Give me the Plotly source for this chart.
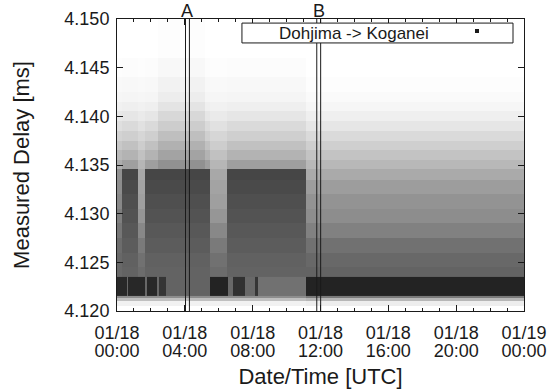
import pandas as pd
import plotly.graph_objects as go

day0 = pd.Timestamp("2008-01-18 00:00")

# Delay bin edges [ms]
delay_edges = [4.1200, 4.1205, 4.1210, 4.1213, 4.1216, 4.1235, 4.1245, 4.1260, 4.1275,
               4.1290, 4.1305, 4.1320, 4.1335, 4.1346, 4.1355, 4.1365, 4.1375, 4.1385,
               4.1395, 4.1405, 4.1415, 4.1425, 4.1440, 4.1460, 4.1500]

# Point density (0 = empty, 1 = saturated) per delay bin, for each kind of period
density_dense = [0.00, 0.06, 0.28, 0.50, 0.66, 0.68, 0.69, 0.71, 0.73, 0.75, 0.77, 0.79,
                 0.81, 0.42, 0.33, 0.27, 0.21, 0.16, 0.11, 0.07, 0.045, 0.03, 0.015, 0.00]
density_gap = [0.00, 0.06, 0.28, 0.50, 0.62, 0.64, 0.62, 0.58, 0.52, 0.46, 0.42, 0.40,
               0.38, 0.32, 0.27, 0.22, 0.18, 0.13, 0.09, 0.06, 0.04, 0.025, 0.01, 0.00]
density_edge = [0.00, 0.06, 0.28, 0.50, 0.64, 0.66, 0.66, 0.64, 0.60, 0.56, 0.52, 0.50,
                0.48, 0.36, 0.30, 0.24, 0.19, 0.14, 0.10, 0.06, 0.04, 0.025, 0.01, 0.00]
density_high = [0.00, 0.06, 0.28, 0.50, 0.66, 0.68, 0.69, 0.71, 0.73, 0.75, 0.77, 0.79,
                0.81, 0.48, 0.40, 0.34, 0.28, 0.22, 0.17, 0.12, 0.08, 0.055, 0.03, 0.01]
density_late = [0.00, 0.08, 0.32, 0.58, 0.95, 0.68, 0.66, 0.62, 0.55, 0.50, 0.47, 0.43,
                0.37, 0.31, 0.26, 0.21, 0.16, 0.11, 0.07, 0.04, 0.02, 0.01, 0.00, 0.00]

# Periods [hours after 01/18 00:00] and which density profile they show
period_hours = [0.0, 0.30, 1.24, 1.65, 2.40, 5.20, 5.48, 6.49, 11.15, 24.0]
period_kind = ["edge", "dense", "gap", "dense", "high", "dense", "gap", "dense", "late"]

# Baseline band (4.1216-4.1235 ms) density per period
band_edges = [4.1216, 4.1235]
band_hours = [0.0, 0.59, 0.65, 1.65, 1.77, 2.36, 2.45, 2.90, 5.48, 6.54, 6.84, 7.55,
              8.14, 8.31, 11.15, 24.0]
band_density = [0.94, 0.66, 0.94, 0.66, 0.94, 0.66, 0.88, 0.68, 0.96, 0.66, 0.90, 0.66,
                0.88, 0.62, 0.96]

# Events marked by double vertical lines
event_labels = ["A", "B"]
event_start_h = [4.04, 11.78]
event_end_h = [4.27, 12.01]

series_name = "Dohjima -> Koganei"

profiles = {"dense": density_dense, "gap": density_gap, "edge": density_edge,
            "high": density_high, "late": density_late}


def t(h):
    return day0 + pd.Timedelta(hours=h)


z_main = [[profiles[k][i] for k in period_kind] for i in range(len(delay_edges) - 1)]

gray = [[0, "#ffffff"], [1, "#1a1a1a"]]
fig = go.Figure()
fig.add_trace(go.Heatmap(x=[t(h) for h in period_hours], y=delay_edges, z=z_main,
                         colorscale=gray, zmin=0, zmax=1, showscale=False,
                         hoverinfo="skip", name=series_name))
fig.add_trace(go.Heatmap(x=[t(h) for h in band_hours], y=band_edges, z=[band_density],
                         colorscale=gray, zmin=0, zmax=1, showscale=False,
                         hoverinfo="skip", xaxis="x2", name=series_name))

font = dict(family="Liberation Sans, Arial, sans-serif", size=18, color="#1a1a1a")
shapes = []
annotations = []
for lab, s, e in zip(event_labels, event_start_h, event_end_h):
    for h in (s, e):
        shapes.append(dict(type="line", xref="x", yref="paper", x0=t(h), x1=t(h), y0=0, y1=1,
                           line=dict(color="#1a1a1a", width=1), layer="above"))
    annotations.append(dict(text=lab, xref="x", yref="paper", x=t((s + e) / 2), y=1,
                            yanchor="bottom", showarrow=False, font=font, yshift=-4))

# key box
shapes.append(dict(type="rect", xref="paper", yref="paper", x0=0.307, x1=0.973, y0=0.918,
                   y1=0.986, line=dict(color="#1a1a1a", width=1), fillcolor="white",
                   layer="above"))
shapes.append(dict(type="rect", xref="paper", yref="paper", x0=0.8796, x1=0.8894, y0=0.9521,
                   y1=0.9658, line=dict(width=0), fillcolor="#1a1a1a", layer="above"))
annotations.append(dict(text=series_name, xref="paper", yref="paper", x=0.582, y=0.952,
                        xanchor="center", yanchor="middle", showarrow=False,
                        font=dict(font, size=17)))

axis_common = dict(showgrid=False, zeroline=False, automargin=False)
fig.update_layout(
    width=549, height=389, margin=dict(l=117, r=25, t=19, b=78),
    paper_bgcolor="white", plot_bgcolor="white", font=font, showlegend=False,
    shapes=shapes, annotations=annotations,
    xaxis=dict(type="date", range=[t(0), t(24)], dtick=4 * 3600000, tick0=t(0),
               tickformat="%m/%d", ticks="inside", ticklen=6, tickcolor="#1a1a1a",
               minor=dict(dtick=3600000, tick0=t(0), ticks="inside", ticklen=3,
                          tickcolor="#1a1a1a"),
               showline=True, linecolor="#1a1a1a", linewidth=1, mirror="ticks",
               ticklabelstandoff=5, **axis_common),
    xaxis2=dict(type="date", overlaying="x", matches="x", side="bottom", anchor="y",
                dtick=4 * 3600000, tick0=t(0), tickformat="%H:%M", ticks="",
                showline=False, ticklabelstandoff=27,
                title=dict(text="Date/Time [UTC]", standoff=27), **axis_common),
    yaxis=dict(range=[4.120, 4.150], dtick=0.005, tickformat=".3f", ticks="inside",
               ticklen=6, tickcolor="#1a1a1a", showline=True, linecolor="#1a1a1a",
               linewidth=1, mirror="ticks", ticklabelstandoff=3,
               title=dict(text="Measured Delay [ms]", standoff=28), **axis_common),
)

fig.write_html("out.html")
